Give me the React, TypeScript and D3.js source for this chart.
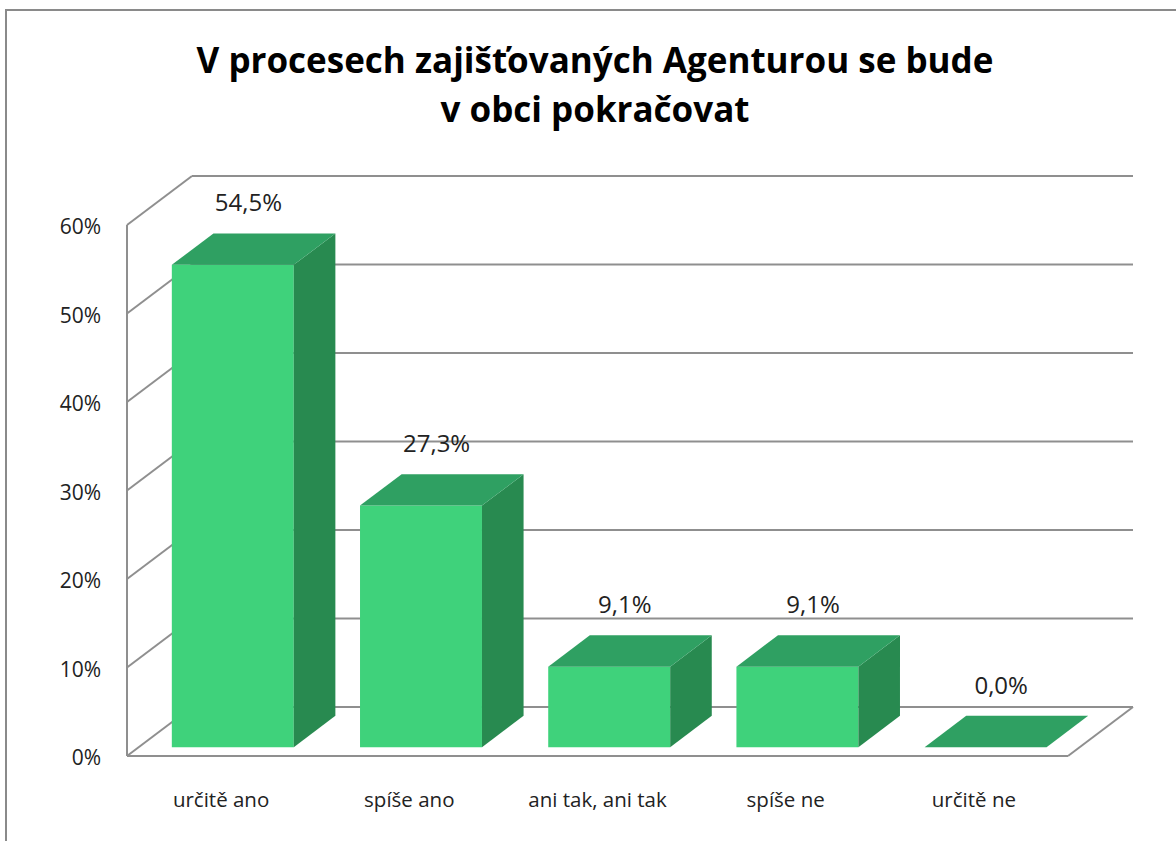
import React from 'react';
import * as d3 from 'd3';

// Chart data
const categories = ['určitě ano', 'spíše ano', 'ani tak, ani tak', 'spíše ne', 'určitě ne'];
const values = [54.5, 27.3, 9.1, 9.1, 0.0];
const tickValues = [0, 10, 20, 30, 40, 50, 60];
const titleLines = ['V procesech zajišťovaných Agenturou se bude', 'v obci pokračovat'];

const W = 1176;
const H = 841;
const FONT = "'Open Sans', 'Noto Sans', sans-serif";

// 3D depth offset of the plot box
const DX = 65;
const DY = -49;
const BAR_Z0 = 0.18;
const BAR_Z1 = 0.82;

const GRID = '#8f8f8f';
const FRONT = '#3fd27b';
const TOP = '#2fa062';
const SIDE = '#288a50';

const App = () => {
  const x = d3.scaleBand<string>()
    .domain(categories)
    .range([127, 1068])
    .paddingInner(0.352)
    .paddingOuter(0.176);

  const y = d3.scaleLinear().domain([0, 60]).range([756, 225]);

  // project a point on the front plane into depth z (0..1)
  const p = (px: number, py: number, z: number) => [px + DX * z, py + DY * z];
  const poly = (pts: number[][]) => pts.map(q => q.join(',')).join(' ');

  const x0 = x.range()[0];
  const x1 = x.range()[1];

  return (
    <div style={{ position: 'absolute', left: 0, top: 0 }}>
      <svg width={W} height={H} style={{ display: 'block', background: '#fff' }}>
        <rect x={6} y={10} width={W + 20} height={H + 20} fill="#fff" stroke="#8a8a8a" strokeWidth={2} />

        {/* Title */}
        {titleLines.map((t, i) => (
          <text key={i} x={595} y={73 + i * 49} textAnchor="middle" fontFamily={FONT}
            fontWeight="bold" fontSize={35} fill="#000">{t}</text>
        ))}

        {/* Back wall gridlines */}
        {tickValues.map(v => {
          const [ax, ay] = p(x0, y(v), 1);
          const [bx] = p(x1, y(v), 1);
          return <line key={'bw' + v} x1={ax} y1={ay} x2={bx} y2={ay} stroke={GRID} strokeWidth={2} />;
        })}

        {/* Side wall gridlines */}
        {tickValues.map(v => {
          const [ax, ay] = p(x0, y(v), 0);
          const [bx, by] = p(x0, y(v), 1);
          return <line key={'sw' + v} x1={ax} y1={ay} x2={bx} y2={by} stroke={GRID} strokeWidth={2} />;
        })}

        {/* Left axis & floor edges */}
        <line x1={x0} y1={y(60)} x2={x0} y2={y(0)} stroke={GRID} strokeWidth={2} />
        <line x1={x0} y1={y(0)} x2={x1} y2={y(0)} stroke={GRID} strokeWidth={2} />
        <line x1={x1} y1={y(0)} x2={p(x1, y(0), 1)[0]} y2={p(x1, y(0), 1)[1]} stroke={GRID} strokeWidth={2} />

        {/* Tick labels */}
        {tickValues.map(v => (
          <text key={'t' + v} x={101} y={y(v) + 9} textAnchor="end" fontFamily={FONT}
            fontSize={21} fill="#222">{v + '%'}</text>
        ))}

        {/* Bars */}
        {categories.map((c, i) => {
          const l = x(c) as number;
          const r = l + x.bandwidth();
          const b = y(0);
          const t = y(values[i]);
          const front = [p(l, b, BAR_Z0), p(r, b, BAR_Z0), p(r, t, BAR_Z0), p(l, t, BAR_Z0)];
          const top = [p(l, t, BAR_Z0), p(r, t, BAR_Z0), p(r, t, BAR_Z1), p(l, t, BAR_Z1)];
          const side = [p(r, b, BAR_Z0), p(r, b, BAR_Z1), p(r, t, BAR_Z1), p(r, t, BAR_Z0)];
          const labelPos = p(l + x.bandwidth() / 2, t, BAR_Z1);
          return (
            <g key={c}>
              {values[i] > 0 && <polygon points={poly(front)} fill={FRONT} />}
              {values[i] > 0 && <polygon points={poly(side)} fill={SIDE} />}
              <polygon points={poly(top)} fill={TOP} />
              <text x={labelPos[0] - 26} y={labelPos[1] - 22} textAnchor="middle" fontFamily={FONT}
                fontSize={24} fill="#222">{values[i].toFixed(1).replace('.', ',') + '%'}</text>
            </g>
          );
        })}

        {/* Category labels */}
        {categories.map(c => (
          <text key={'c' + c} x={(x(c) as number) + x.bandwidth() / 2} y={807} textAnchor="middle"
            fontFamily={FONT} fontSize={20.5} fill="#222">{c}</text>
        ))}
      </svg>
    </div>
  );
};

export default App;
